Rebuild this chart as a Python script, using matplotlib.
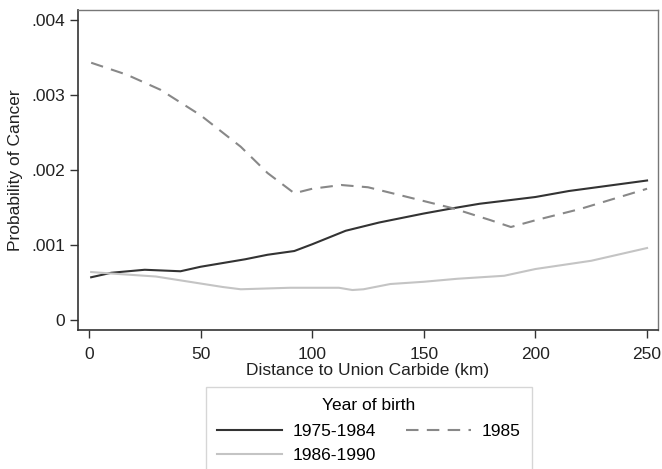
import matplotlib.pyplot as plt
from matplotlib.lines import Line2D

plt.rcParams['font.family'] = ['Liberation Sans', 'DejaVu Sans']

# values (distance in km, probability)
dist_7584 = [1, 10, 25, 41, 50, 60, 70, 80, 92, 100, 115, 130, 150, 163, 175, 189, 200, 215, 235, 250]
prob_7584 = [0.00057, 0.00063, 0.00067, 0.00065, 0.00071, 0.00076, 0.00081, 0.00087, 0.00092, 0.00101,
             0.00119, 0.00130, 0.00142, 0.00149, 0.00155, 0.00160, 0.00164, 0.00172, 0.00180, 0.00186]

dist_85 = [1, 17, 32, 50, 68, 80, 92, 100, 113, 125, 140, 163, 180, 189, 200, 220, 250]
prob_85 = [0.00343, 0.00327, 0.00307, 0.00273, 0.00231, 0.00196, 0.00169, 0.00175, 0.00180, 0.00177,
           0.00166, 0.00149, 0.00133, 0.00124, 0.00133, 0.00148, 0.00175]

dist_8690 = [1, 10, 30, 45, 60, 68, 90, 112, 118, 123, 135, 150, 165, 186, 200, 225, 250]
prob_8690 = [0.00064, 0.00062, 0.00058, 0.00051, 0.00044, 0.00041, 0.00043, 0.00043, 0.00040, 0.00041,
             0.00048, 0.00051, 0.00055, 0.00059, 0.00068, 0.00079, 0.00096]

xticks = [0, 50, 100, 150, 200, 250]
yticks = [0, 0.001, 0.002, 0.003, 0.004]
ylabels = ['0', '.001', '.002', '.003', '.004']

fig = plt.figure(figsize=(6.62, 4.69), dpi=100)
ax = fig.add_axes([78 / 662, 1 - 330 / 469, 580 / 662, 320 / 469])

c_solid, c_dash, c_light = '#333333', '#888888', '#c4c4c4'
ax.plot(dist_7584, prob_7584, color=c_solid, lw=1.5)
ax.plot(dist_85, prob_85, color=c_dash, lw=1.5, dashes=(6, 4))
ax.plot(dist_8690, prob_8690, color=c_light, lw=1.5)

ax.set_xlim(-4.9, 254.9)
ax.set_ylim(-0.000133, 0.004133)
ax.set_xticks(xticks)
ax.set_yticks(yticks)
ax.set_yticklabels(ylabels)
ax.tick_params(direction='out', length=6, width=1, colors='#333333', labelsize=12.5, labelcolor='#222222')
ax.tick_params(axis='x', pad=6)
ax.tick_params(axis='y', pad=3)

for s in ['left', 'bottom']:
    ax.spines[s].set_color('#333333')
    ax.spines[s].set_linewidth(1.2)
for s in ['top', 'right']:
    ax.spines[s].set_color('#777777')
    ax.spines[s].set_linewidth(1.0)

ax.set_xlabel('Distance to Union Carbide (km)', fontsize=12.5, color='#222222', labelpad=1)
ax.set_ylabel('Probability of Cancer', fontsize=12.5, color='#222222', labelpad=6)

handles = [Line2D([], [], color=c_solid, lw=1.5),
           Line2D([], [], color=c_light, lw=1.5),
           Line2D([], [], color=c_dash, lw=1.5, dashes=(6, 4))]
labels = ['1975-1984', '1986-1990', '1985']
leg = fig.legend(handles, labels, ncol=2, title='Year of birth', loc='upper center',
                 bbox_to_anchor=(369 / 662, 1 - 387 / 469), borderaxespad=0,
                 fontsize=12.5, title_fontsize=12.5,
                 frameon=True, fancybox=False, edgecolor='#cccccc', handlelength=3.75,
                 columnspacing=1.7, labelspacing=0.52, borderpad=0.62, handletextpad=0.63)
leg.get_frame().set_linewidth(1.0)
leg._legend_box.sep = 8

fig.savefig('out.png', dpi=100)
